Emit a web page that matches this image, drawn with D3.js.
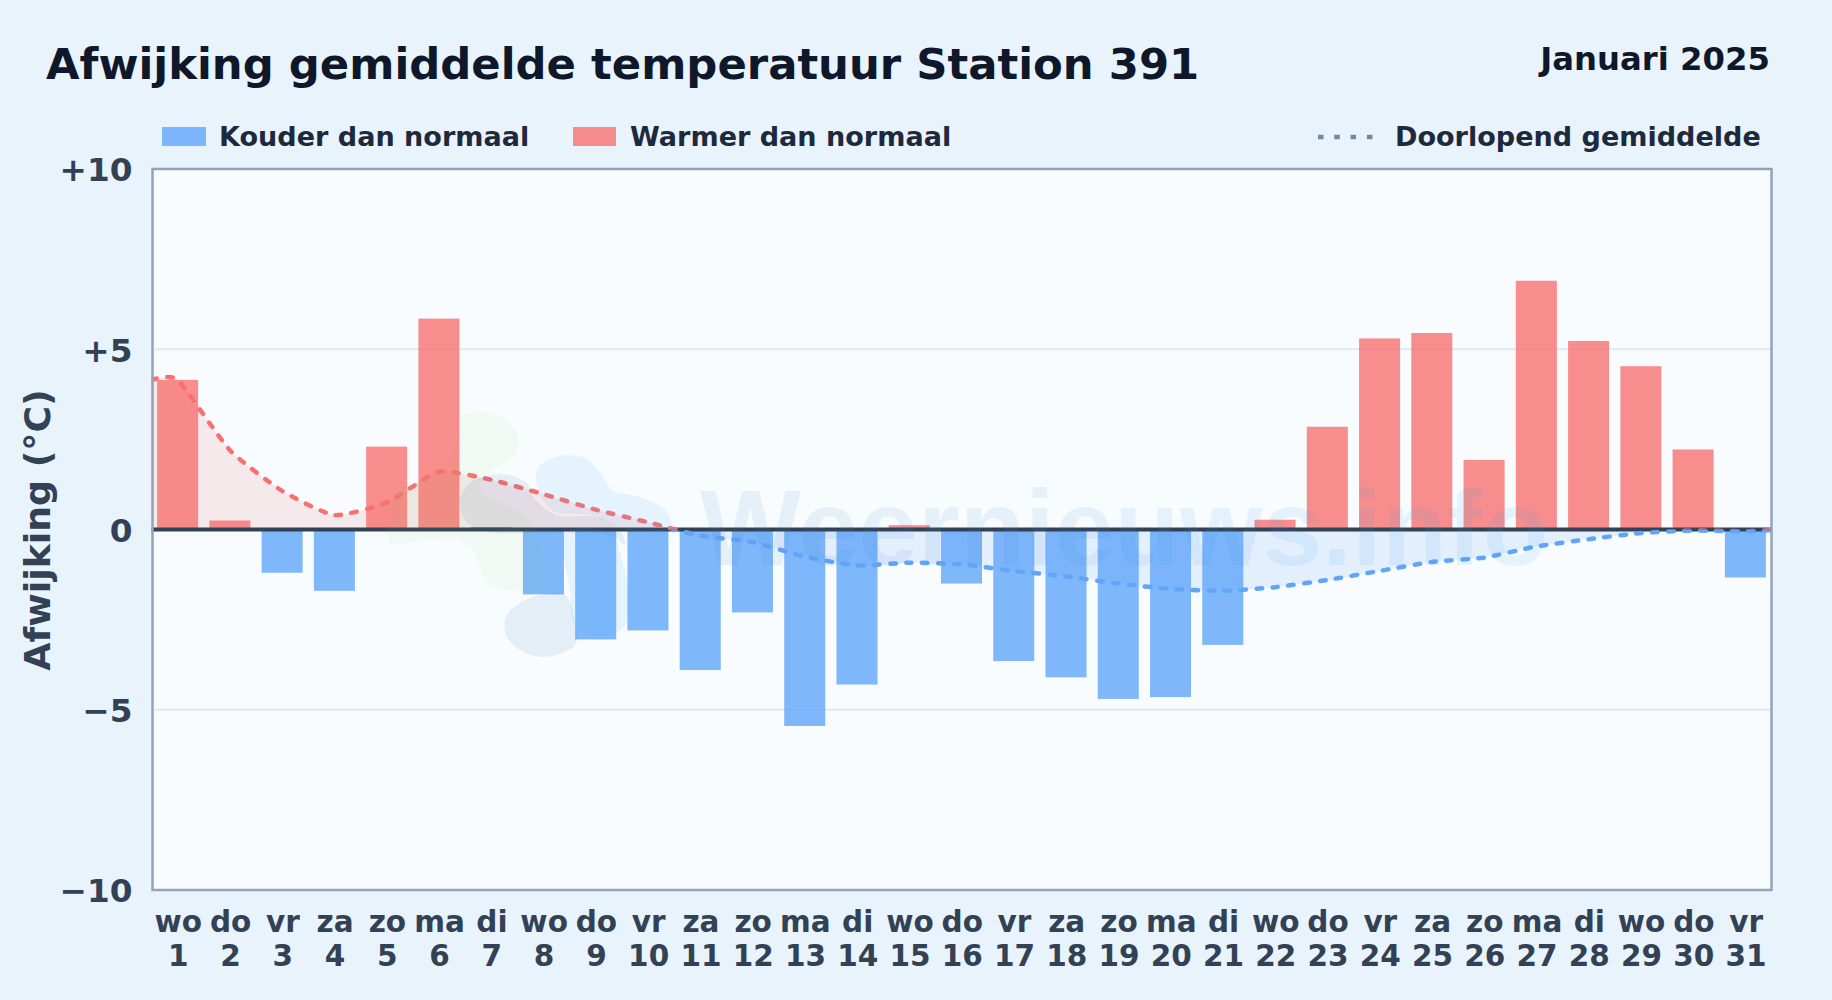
<!DOCTYPE html>
<html>
<head>
<meta charset="utf-8">
<script src="https://cdn.jsdelivr.net/npm/d3@7"></script>
<style>
  html, body { margin: 0; padding: 0; background: #e8f3fc; }
  svg { display: block; }
  text { font-family: "DejaVu Sans", sans-serif; font-weight: bold; }
  .axis path, .axis line { display: none; }
  .axis text { fill: #334155; font-size: 29.5px; }
  .y.axis text { font-size: 32.7px; }
</style>
</head>
<body>
<svg class="chart"></svg>
<script>
const days = d3.range(1, 32);
const weekdays = ['wo','do','vr','za','zo','ma','di','wo','do','vr','za','zo','ma','di','wo','do','vr','za','zo','ma','di','wo','do','vr','za','zo','ma','di','wo','do','vr'];
const anomaly = [4.15, 0.25, -1.2, -1.7, 2.3, 5.85, 0.07, -1.8, -3.05, -2.8, -3.9, -2.3, -5.45, -4.3, 0.12, -1.5, -3.65, -4.1, -4.7, -4.65, -3.2, 0.27, 2.85, 5.3, 5.45, 1.93, 6.9, 5.23, 4.53, 2.22, -1.33];
const meanDays = [0.5].concat(days, [31.5]);
const runningMean = [4.15, 4.15, 2.2, 1.07, 0.4, 0.75, 1.6, 1.38, 0.98, 0.55, 0.2, -0.17, -0.35, -0.75, -1.0, -0.92, -0.97, -1.15, -1.3, -1.5, -1.65, -1.7, -1.6, -1.4, -1.15, -0.9, -0.78, -0.47, -0.27, -0.1, -0.03, -0.05, -0.02];
const yTicks = [10, 5, 0, -5, -10];
const yTickLabels = ['+10', '+5', '0', '\u22125', '\u221210'];

const width = 1832, height = 1000;
const margin = { top: 169, right: 60.5, bottom: 110, left: 151.5 };
const plotW = width - margin.left - margin.right;
const plotH = height - margin.top - margin.bottom;

const x = d3.scaleBand()
  .domain(days)
  .range([0, plotW])
  .paddingInner(0.215)
  .paddingOuter(0.1075);

const xLine = d3.scaleLinear()
  .domain([0.5, 31.5])
  .range([0, plotW]);

const y = d3.scaleLinear()
  .domain([-10, 10])
  .range([plotH, 0]);

const svg = d3.select('.chart')
  .attr('width', width)
  .attr('height', height);

const defs = svg.append('defs');
defs.append('clipPath').attr('id', 'above')
  .append('rect').attr('width', plotW).attr('height', y(0));
defs.append('clipPath').attr('id', 'below')
  .append('rect').attr('y', y(0)).attr('width', plotW).attr('height', plotH - y(0));

const wmGrad = defs.append('linearGradient').attr('id', 'wm');
wmGrad.append('stop').attr('offset', '0%').attr('stop-color', '#3f7fb8');
wmGrad.append('stop').attr('offset', '100%').attr('stop-color', '#38a0f0');

// titles
svg.append('text').attr('x', 46).attr('y', 79)
  .style('font-size', '43.35px').style('fill', '#0f172a')
  .text('Afwijking gemiddelde temperatuur Station 391');
svg.append('text').attr('x', 1770).attr('y', 70)
  .attr('text-anchor', 'end')
  .style('font-size', '32.3px').style('fill', '#0f172a')
  .text('Januari 2025');

// legend
const legend = svg.append('g').style('font-size', '27.05px').style('fill', '#1e293b');
legend.append('rect').attr('x', 162).attr('y', 127).attr('width', 44).attr('height', 19).attr('fill', '#60a5fa').attr('fill-opacity', 0.8);
legend.append('text').attr('x', 219).attr('y', 146).text('Kouder dan normaal');
legend.append('rect').attr('x', 573).attr('y', 127).attr('width', 43).attr('height', 19).attr('fill', '#f87171').attr('fill-opacity', 0.8);
legend.append('text').attr('x', 630).attr('y', 146).text('Warmer dan normaal');
legend.append('line').attr('x1', 1318).attr('x2', 1375).attr('y1', 137).attr('y2', 137)
  .attr('stroke', '#64748b').attr('stroke-width', 4.5).attr('stroke-opacity', 0.85).attr('stroke-dasharray', '5.5 10.8');
legend.append('text').attr('x', 1395).attr('y', 146).text('Doorlopend gemiddelde');

svg.append('text')
  .attr('transform', 'translate(50,530) rotate(-90)')
  .attr('text-anchor', 'middle')
  .style('font-size', '36.3px').style('fill', '#334155')
  .text('Afwijking (\u00b0C)');

const chart = svg.append('g')
  .attr('transform', 'translate(' + margin.left + ',' + margin.top + ')');

chart.append('rect').attr('width', plotW).attr('height', plotH).attr('fill', '#f8fcff');

chart.selectAll('.grid')
    .data([5, -5])
  .enter().append('line')
    .attr('class', 'grid')
    .attr('x2', plotW)
    .attr('y1', d => y(d))
    .attr('y2', d => y(d))
    .attr('stroke', '#e2e8f0')
    .attr('stroke-width', 2);

// watermark logo blobs, page pixels
const blob = d3.line().curve(d3.curveCatmullRomClosed);
const watermark = svg.append('g');
const blobs = [
  { fill: '#86c440', o: 0.06, pts: [[460,418],[490,413],[516,430],[515,455],[490,472],[480,490],[530,520],[545,590],[520,592],[490,584],[467,543],[430,540],[391,543],[387,525],[400,490],[445,470],[458,440]] },
  { fill: '#38a8f0', o: 0.1, pts: [[537,470],[555,457],[585,458],[600,472],[612,490],[640,497],[665,510],[672,530],[640,533],[618,527],[590,515],[555,512],[540,495]] },
  { fill: '#38a8f0', o: 0.1, pts: [[565,533],[610,533],[622,560],[628,590],[625,625],[600,637],[575,625],[570,590]] },
  { fill: '#1f5f9e', o: 0.09, pts: [[460,500],[470,483],[500,474],[527,483],[533,497],[557,515],[597,517],[620,530],[625,545],[610,535],[540,533],[490,532],[465,520]] },
  { fill: '#1f5f9e', o: 0.09, pts: [[507,615],[530,598],[565,595],[575,625],[575,645],[545,657],[520,650],[506,635]] }
];
watermark.selectAll('path')
    .data(blobs)
  .enter().append('path')
    .attr('d', d => blob(d.pts))
    .attr('fill', d => d.fill)
    .attr('fill-opacity', d => d.o);
watermark.append('text')
  .attr('x', 700).attr('y', 565)
  .attr('textLength', 848).attr('lengthAdjust', 'spacingAndGlyphs')
  .style('font-family', '"Liberation Sans", sans-serif')
  .style('font-size', '108px')
  .style('fill', 'url(#wm)')
  .style('fill-opacity', 0.1)
  .text('Weernieuws.info');

// area under running mean
const points = meanDays.map((d, i) => [d, runningMean[i]]);
const curve = d3.curveCardinal.tension(0.45);
const area = d3.area().curve(curve).x(d => xLine(d[0])).y0(y(0)).y1(d => y(d[1]));
const line = d3.line().curve(curve).x(d => xLine(d[0])).y(d => y(d[1]));

chart.append('path').attr('d', area(points)).attr('clip-path', 'url(#above)').attr('fill', '#ef4444').attr('fill-opacity', 0.1);
chart.append('path').attr('d', area(points)).attr('clip-path', 'url(#below)').attr('fill', '#3b82f6').attr('fill-opacity', 0.1);

chart.selectAll('.bar')
    .data(days)
  .enter().append('rect')
    .attr('class', 'bar')
    .attr('x', d => x(d))
    .attr('y', (d, i) => y(Math.max(0, anomaly[i])))
    .attr('height', (d, i) => Math.abs(y(anomaly[i]) - y(0)))
    .attr('width', x.bandwidth())
    .attr('fill', (d, i) => anomaly[i] < 0 ? '#60a5fa' : '#f87171')
    .attr('fill-opacity', 0.8);

chart.append('line')
  .attr('x2', plotW)
  .attr('y1', y(0)).attr('y2', y(0))
  .attr('stroke', '#334155').attr('stroke-width', 4);

[['above', '#f87171'], ['below', '#60a5fa']].forEach(s => {
  chart.append('path')
    .attr('d', line(points))
    .attr('clip-path', 'url(#' + s[0] + ')')
    .attr('fill', 'none')
    .attr('stroke', s[1])
    .attr('stroke-width', 4.5)
    .attr('stroke-linecap', 'round')
    .attr('stroke-dasharray', '5.5 10.5');
});

chart.append('rect').attr('x', 1).attr('width', plotW - 1).attr('height', plotH)
  .attr('fill', 'none').attr('stroke', '#94a3b8').attr('stroke-width', 2.5);

// axes
const yAxis = d3.axisLeft(y)
  .tickValues(yTicks)
  .tickFormat((d, i) => yTickLabels[i])
  .tickSize(0)
  .tickPadding(19);
chart.append('g').attr('class', 'y axis').call(yAxis)
  .selectAll('text').attr('dy', '0.36em');

const xAxis = d3.axisBottom(x).tickSize(0).tickFormat(() => '');
const xG = chart.append('g')
  .attr('class', 'x axis')
  .attr('transform', 'translate(0,' + plotH + ')')
  .call(xAxis);
xG.selectAll('.tick text').each(function(d, i) {
  const t = d3.select(this).attr('y', 0).attr('dy', null);
  t.append('tspan').attr('x', 0.7).attr('y', 42).text(weekdays[i]);
  t.append('tspan').attr('x', 0.7).attr('y', 76).text(d);
});
</script>
</body>
</html>
